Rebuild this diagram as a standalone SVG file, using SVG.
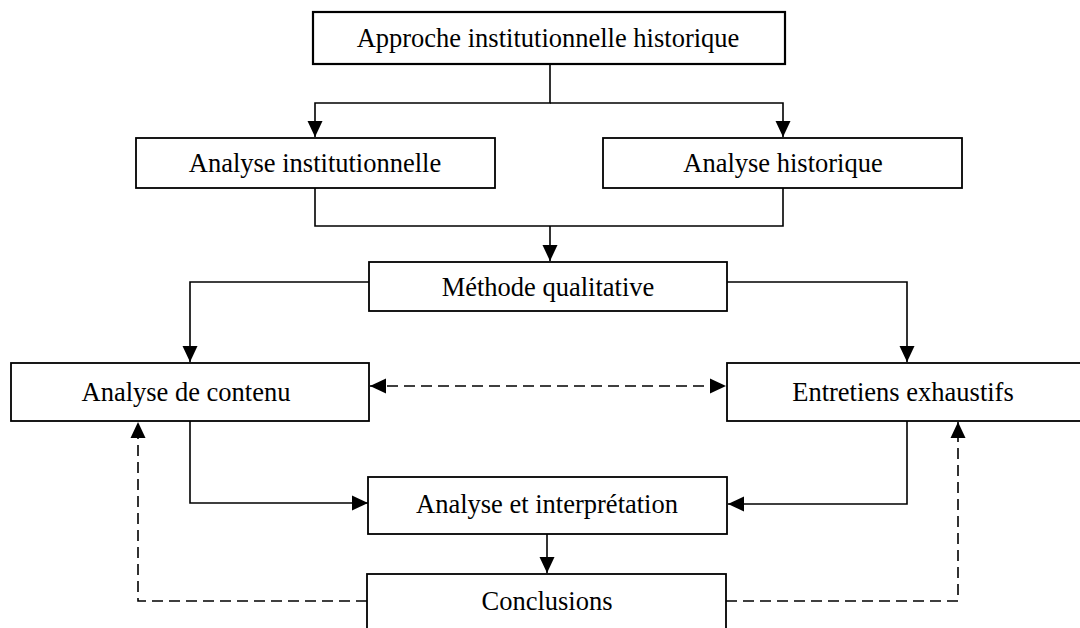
<svg xmlns="http://www.w3.org/2000/svg" width="1080" height="628" viewBox="0 0 1080 628">
  <style>
    .box { fill: #fff; stroke: #000; stroke-width: 1.8; }
    .lbl { font-family: "Liberation Serif", "Times New Roman", serif; font-size: 26.5px; fill: #000; text-anchor: middle; }
    .wire { fill: none; stroke: #000; stroke-width: 1.6; }
    .dash { fill: none; stroke: #000; stroke-width: 1.6; stroke-dasharray: 11 6; }
  </style>
  <defs>
    <marker id="head" markerUnits="userSpaceOnUse" markerWidth="16" markerHeight="16" refX="16" refY="8" orient="auto-start-reverse">
      <path d="M0,0.5 L16,8 L0,15.5 Z" fill="#000"/>
    </marker>
  </defs>

  <g id="connectors">
    <!-- split from the approach box -->
    <path class="wire" d="M550,64 V103 H315 V137" marker-end="url(#head)"/>
    <path class="wire" d="M550,103 H783 V137" marker-end="url(#head)"/>
    <!-- merge into the qualitative method -->
    <path class="wire" d="M315,188 V226 H783 V188"/>
    <path class="wire" d="M550,226 V261" marker-end="url(#head)"/>
    <!-- method to the two techniques -->
    <path class="wire" d="M369,282 H190 V362" marker-end="url(#head)"/>
    <path class="wire" d="M727,282 H907 V362" marker-end="url(#head)"/>
    <!-- mutual link between techniques -->
    <path class="dash" d="M370,386 H726" marker-start="url(#head)" marker-end="url(#head)"/>
    <!-- techniques to analysis -->
    <path class="wire" d="M190,421 V503 H368" marker-end="url(#head)"/>
    <path class="wire" d="M907,421 V504 H728" marker-end="url(#head)"/>
    <!-- analysis to conclusions -->
    <path class="wire" d="M547,534 V573" marker-end="url(#head)"/>
    <!-- feedback from conclusions -->
    <path class="dash" d="M367,601 H138 V422" marker-end="url(#head)"/>
    <path class="dash" d="M726,601 H958 V422" marker-end="url(#head)"/>
  </g>

  <g id="approche">
    <rect class="box" x="313" y="12" width="472" height="52" style="stroke-width:2.2"/>
    <text class="lbl" x="548" y="47">Approche institutionnelle historique</text>
  </g>
  <g id="analyse-institutionnelle">
    <rect class="box" x="136" y="138" width="359" height="50"/>
    <text class="lbl" x="315" y="172">Analyse institutionnelle</text>
  </g>
  <g id="analyse-historique">
    <rect class="box" x="603" y="138" width="359" height="50"/>
    <text class="lbl" x="783" y="172">Analyse historique</text>
  </g>
  <g id="methode">
    <rect class="box" x="369" y="262" width="358" height="49"/>
    <text class="lbl" x="548" y="296">Méthode qualitative</text>
  </g>
  <g id="contenu">
    <rect class="box" x="11" y="363" width="358" height="58"/>
    <text class="lbl" x="186" y="401">Analyse de contenu</text>
  </g>
  <g id="entretiens">
    <rect class="box" x="727" y="363" width="360" height="58"/>
    <text class="lbl" x="903" y="401">Entretiens exhaustifs</text>
  </g>
  <g id="interpretation">
    <rect class="box" x="368" y="477" width="359" height="57"/>
    <text class="lbl" x="547" y="513">Analyse et interprétation</text>
  </g>
  <g id="conclusions">
    <rect class="box" x="367" y="574" width="359" height="70"/>
    <text class="lbl" x="547" y="610">Conclusions</text>
  </g>
</svg>
